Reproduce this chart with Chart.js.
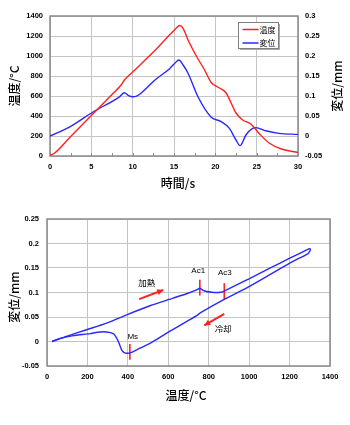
<!DOCTYPE html>
<html><head><meta charset="utf-8">
<script src="https://cdn.jsdelivr.net/npm/chart.js@4.4.1/dist/chart.umd.min.js"></script>
<style>
html,body{margin:0;padding:0;background:#fff;width:350px;height:425px;overflow:hidden}
canvas{position:absolute;left:0}
#c1{top:0}
#c2{top:205px}
</style></head><body>
<canvas id="c1" width="350" height="200" style="width:350px;height:200px"></canvas>
<canvas id="c2" width="350" height="220" style="width:350px;height:220px"></canvas>
<script>
// ---- Chart 1 data: time history ----
const timeS          = [0, 0.4, 2.5, 5, 7.5, 8.6, 9, 10, 12.5, 15, 15.7, 16.1, 16.7, 17.7, 18.7, 19.5, 20.5, 21.3, 22.5, 23.3, 24.3, 25.3, 26.5, 28, 30];
const temperatureC   = [10, 20, 195, 405, 615, 710, 760, 840, 1040, 1255, 1305, 1277, 1160, 1000, 860, 735, 680, 630, 430, 360, 320, 225, 130, 70, 35];
const dispTimeS      = [0, 2.4, 5.2, 8.4, 9.0, 9.5, 10.0, 10.4, 11, 12.7, 14.5, 15.1, 15.6, 16.1, 16.7, 17.9, 19.5, 20.7, 21.7, 22.5, 23.0, 23.7, 24.5, 24.9, 26.1, 27.7, 30];
const displacementMm = [0, 0.023, 0.06, 0.098, 0.108, 0.101, 0.098, 0.099, 0.107, 0.14, 0.169, 0.182, 0.19, 0.1775, 0.157, 0.098, 0.047, 0.036, 0.019, -0.01, -0.024, 0.0025, 0.019, 0.021, 0.013, 0.0067, 0.004];
const seriesNames    = ['温度', '変位'];
const timeTicks      = [0, 5, 10, 15, 20, 25, 30];
const timeMinorTicks = [2.5, 7.5, 12.5, 17.5, 22.5, 27.5];
const tempTicks      = [0, 200, 400, 600, 800, 1000, 1200, 1400];
const dispTicks1     = [-0.05, 0, 0.05, 0.1, 0.15, 0.2, 0.25, 0.3];

// ---- Chart 2 data: dilatometric loop ----
const heatTempC  = [25, 100, 196, 295, 394, 509, 624, 700, 748, 755, 770, 790, 815, 839, 860, 872, 1004, 1100, 1201, 1300];
const heatDispMm = [0, 0.011, 0.024, 0.0375, 0.0545, 0.073, 0.0885, 0.099, 0.107, 0.109, 0.105, 0.102, 0.1005, 0.100, 0.1005, 0.102, 0.129, 0.149, 0.170, 0.19];
const coolTempC  = [1300, 1303, 1298, 1290, 1201, 1004, 872, 760, 748, 700, 600, 509, 460, 419, 397, 380, 369, 353, 340, 328, 295, 250, 213, 130, 60, 25];
const coolDispMm = [0.19, 0.188, 0.183, 0.179, 0.160, 0.113, 0.085, 0.059, 0.055, 0.043, 0.019, -0.004, -0.0135, -0.022, -0.024, -0.022, -0.017, 0, 0.010, 0.016, 0.0195, 0.019, 0.016, 0.012, 0.006, 0];
const tempTicks2 = [0, 200, 400, 600, 800, 1000, 1200, 1400];
const dispTicks2 = [-0.05, 0, 0.05, 0.1, 0.15, 0.2, 0.25];
// transformation points: name, temperature, marker bottom, marker top, label temperature, label displacement
const pointNames   = ['Ms', 'Ac1', 'Ac3'];
const pointTempC   = [410, 756, 877];
const pointLowMm   = [-0.037, 0.094, 0.085];
const pointHighMm  = [-0.005, 0.126, 0.119];
const pointLabelT  = [424, 748, 880];
const pointLabelMm = [0.010, 0.144, 0.141];
// process arrows: label, from (T,d) to (T,d), label (T,d)
const arrowNames   = ['加熱', '冷却'];
const arrowFromT   = [456, 877];
const arrowFromMm  = [0.0865, 0.0565];
const arrowToT     = [575, 778];
const arrowToMm    = [0.105, 0.0327];
const arrowLabelT  = [493, 872];
const arrowLabelMm = [0.120, 0.026];

const RED = 'rgb(255,32,32)';
const BLUE = 'rgb(40,40,255)';
const GRID = '#c4c4c4';
const FRAME = '#8a8a8a';
const TICKFONT = {family: "'Liberation Sans', Arial, sans-serif", size: 7.5, weight: 'bold'};
const CJK = "'Noto Sans CJK JP', 'Liberation Sans', sans-serif";

const pts = (xs, ys) => xs.map((x, i) => ({x: x, y: ys[i]}));
const setTicks = arr => s => { s.ticks = arr.map(v => ({value: v})); };

function text(ctx, str, x, y, font, angle, align) {
  ctx.save();
  ctx.translate(x, y);
  if (angle) ctx.rotate(angle);
  ctx.font = font;
  ctx.fillStyle = '#000';
  ctx.textAlign = align || 'center';
  ctx.textBaseline = 'middle';
  ctx.fillText(str, 0, 0);
  ctx.restore();
}
function frame(chart) {
  const a = chart.chartArea, c = chart.ctx;
  c.save();
  c.strokeStyle = FRAME;
  c.lineWidth = 1.5;
  c.strokeRect(a.left, a.top, a.right - a.left, a.bottom - a.top);
  c.restore();
}

Chart.defaults.font.family = TICKFONT.family;
Chart.defaults.color = '#000';

// ---------------- Chart 1 ----------------
const plugin1 = {
  id: 'deco1',
  beforeDatasetsDraw(chart) {
    frame(chart);
    const c = chart.ctx, a = chart.chartArea, xs = chart.scales.x;
    c.save();
    c.strokeStyle = FRAME; c.lineWidth = 1;
    timeMinorTicks.concat(timeTicks).forEach(v => {
      const px = Math.round(xs.getPixelForValue(v)) + 0.5;
      c.beginPath(); c.moveTo(px, a.bottom); c.lineTo(px, a.bottom - 3); c.stroke();
    });
    c.restore();
  },
  afterDatasetsDraw(chart) {
    const c = chart.ctx, a = chart.chartArea;
    // legend box
    const bx = 238.5, by = 22.5, bw = 40, bh = 26;
    c.save();
    c.fillStyle = '#aaa';
    c.fillRect(bx + 1.5, by + 1.5, bw, bh);
    c.fillStyle = '#fff';
    c.fillRect(bx, by, bw, bh);
    c.strokeStyle = '#808080'; c.lineWidth = 1;
    c.strokeRect(bx, by, bw, bh);
    chart.data.datasets.forEach((ds, i) => {
      const ly = by + 7 + i * 13.5;
      c.strokeStyle = ds.borderColor; c.lineWidth = 1.5;
      c.beginPath(); c.moveTo(bx + 4, ly); c.lineTo(bx + 20, ly); c.stroke();
      text(c, ds.label, bx + 21, ly, "8px " + CJK, 0, 'left');
    });
    c.restore();
    // axis titles
    text(c, '温度/°C', 14, (a.top + a.bottom) / 2, "500 12px " + CJK, -Math.PI / 2);
    text(c, '変位/mm', 337, (a.top + a.bottom) / 2, "500 12px " + CJK, -Math.PI / 2);
    text(c, '時間/s', 178, 183, "500 12px " + CJK, 0);
  }
};

new Chart(document.getElementById('c1'), {
  type: 'scatter',
  data: {
    datasets: [
      {label: seriesNames[0], data: pts(timeS, temperatureC), yAxisID: 'y', showLine: true,
       borderColor: RED, borderWidth: 1.4, pointRadius: 0, cubicInterpolationMode: 'monotone'},
      {label: seriesNames[1], data: pts(dispTimeS, displacementMm), yAxisID: 'y2', showLine: true,
       borderColor: BLUE, borderWidth: 1.4, pointRadius: 0, cubicInterpolationMode: 'monotone'}
    ]
  },
  options: {
    responsive: false, animation: false, devicePixelRatio: 1,
    layout: {padding: {top: 16, left: 0, right: 0, bottom: 0}},
    plugins: {legend: {display: false}, tooltip: {enabled: false}},
    scales: {
      x: {type: 'linear', min: 0, max: 30, afterBuildTicks: setTicks(timeTicks),
          afterFit: s => { s.height = 44; },
          grid: {color: GRID, drawTicks: false}, border: {display: false},
          ticks: {padding: 6, font: TICKFONT, color: '#000', callback: v => String(v), maxRotation: 0}},
      y: {position: 'left', min: 0, max: 1400, afterBuildTicks: setTicks(tempTicks),
          afterFit: s => { s.width = 50; },
          grid: {color: GRID, drawTicks: false}, border: {display: false},
          ticks: {padding: 7, font: TICKFONT, color: '#000', callback: v => String(v)}},
      y2: {position: 'right', min: -0.05, max: 0.3, afterBuildTicks: setTicks(dispTicks1),
          afterFit: s => { s.width = 52; },
          grid: {display: false, drawTicks: false}, border: {display: false},
          ticks: {padding: 7, font: TICKFONT, color: '#000', callback: v => String(v)}}
    }
  },
  plugins: [plugin1]
});

// ---------------- Chart 2 ----------------
const plugin2 = {
  id: 'deco2',
  beforeDatasetsDraw(chart) { frame(chart); },
  afterDatasetsDraw(chart) {
    const c = chart.ctx, a = chart.chartArea, xs = chart.scales.x, ys = chart.scales.y;
    // arrow heads
    arrowNames.forEach((n, i) => {
      const x0 = xs.getPixelForValue(arrowFromT[i]), y0 = ys.getPixelForValue(arrowFromMm[i]);
      const x1 = xs.getPixelForValue(arrowToT[i]), y1 = ys.getPixelForValue(arrowToMm[i]);
      const ang = Math.atan2(y1 - y0, x1 - x0), L = 6, W = 3;
      c.save();
      c.fillStyle = RED;
      c.beginPath();
      c.moveTo(x1, y1);
      c.lineTo(x1 - L * Math.cos(ang) + W * Math.sin(ang), y1 - L * Math.sin(ang) - W * Math.cos(ang));
      c.lineTo(x1 - L * Math.cos(ang) - W * Math.sin(ang), y1 - L * Math.sin(ang) + W * Math.cos(ang));
      c.closePath(); c.fill();
      c.restore();
      text(c, n, xs.getPixelForValue(arrowLabelT[i]), ys.getPixelForValue(arrowLabelMm[i]), "8.5px " + CJK, 0);
    });
    pointNames.forEach((n, i) => {
      text(c, n, xs.getPixelForValue(pointLabelT[i]), ys.getPixelForValue(pointLabelMm[i]), "8px " + TICKFONT.family, 0);
    });
    text(c, '変位/mm', 14, 92, "500 12px " + CJK, -Math.PI / 2);
    text(c, '温度/°C', 186, 190, "500 12px " + CJK, 0);
  }
};

const lineSeg = (x0, y0, x1, y1, w) => ({data: [{x: x0, y: y0}, {x: x1, y: y1}], showLine: true,
  borderColor: RED, borderWidth: w, pointRadius: 0, tension: 0});
const ds2 = [
  {label: 'heating', data: pts(heatTempC, heatDispMm), showLine: true, borderColor: BLUE, borderWidth: 1.4, pointRadius: 0, tension: 0.25},
  {label: 'cooling', data: pts(coolTempC, coolDispMm), showLine: true, borderColor: BLUE, borderWidth: 1.4, pointRadius: 0, tension: 0.25}
];
pointNames.forEach((n, i) => ds2.push(lineSeg(pointTempC[i], pointLowMm[i], pointTempC[i], pointHighMm[i], 1.6)));
arrowNames.forEach((n, i) => ds2.push(lineSeg(arrowFromT[i], arrowFromMm[i], arrowToT[i], arrowToMm[i], 2)));

new Chart(document.getElementById('c2'), {
  type: 'scatter',
  data: {datasets: ds2},
  options: {
    responsive: false, animation: false, devicePixelRatio: 1,
    layout: {padding: {top: 14, left: 0, right: 20, bottom: 0}},
    plugins: {legend: {display: false}, tooltip: {enabled: false}},
    scales: {
      x: {type: 'linear', min: 0, max: 1400, afterBuildTicks: setTicks(tempTicks2),
          afterFit: s => { s.height = 59; },
          grid: {color: GRID, drawTicks: false}, border: {display: false},
          ticks: {padding: 6, font: TICKFONT, color: '#000', callback: v => String(v), maxRotation: 0}},
      y: {position: 'left', min: -0.05, max: 0.25, afterBuildTicks: setTicks(dispTicks2),
          afterFit: s => { s.width = 47; },
          grid: {color: GRID, drawTicks: false}, border: {display: false},
          ticks: {padding: 8, font: TICKFONT, color: '#000', callback: v => String(v)}}
    }
  },
  plugins: [plugin2]
});
</script>
</body></html>
